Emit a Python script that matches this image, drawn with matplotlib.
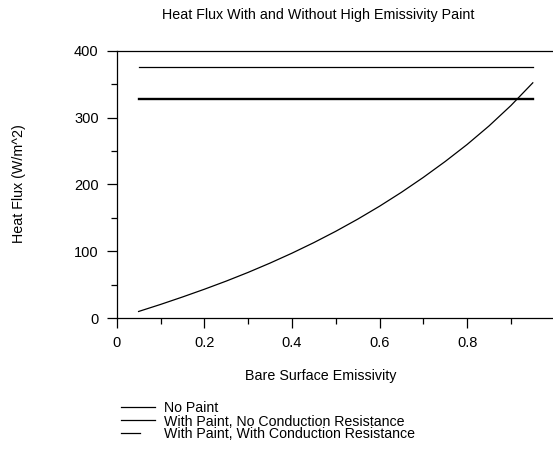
import matplotlib
matplotlib.use("Agg")
import matplotlib.pyplot as plt
from matplotlib.lines import Line2D
from matplotlib.ticker import MultipleLocator

plt.rcParams['font.family'] = ['Liberation Sans', 'DejaVu Sans']

# data
emissivity = [0.05, 0.10, 0.15, 0.20, 0.25, 0.30, 0.35, 0.40, 0.45, 0.50,
              0.55, 0.60, 0.65, 0.70, 0.75, 0.80, 0.85, 0.90, 0.95]
no_paint = [10.2, 20.7, 31.8, 43.4, 55.6, 68.6, 82.5, 97.3, 113.1, 130.0,
            148.1, 167.5, 188.3, 210.6, 234.4, 259.8, 287.5, 318.0, 352.0]
paint_no_cond = [376.0] * len(emissivity)
paint_with_cond = [328.0] * len(emissivity)
labels = ['No Paint', 'With Paint, No Conduction Resistance',
          'With Paint, With Conduction Resistance']

W, H = 553, 453
fig = plt.figure(figsize=(W / 100, H / 100), dpi=100)
ax = fig.add_axes([116.7 / W, 134.7 / H, 438.0 / W, 267.6 / H])

ax.plot(emissivity, no_paint, color='black', lw=0.9)
ax.plot(emissivity, paint_no_cond, color='black', lw=0.9)
ax.plot(emissivity, paint_with_cond, color='black', lw=1.7)

ax.set_xlim(0, 1.0)
ax.set_ylim(0, 400)
ax.xaxis.set_minor_locator(MultipleLocator(0.1))
ax.yaxis.set_minor_locator(MultipleLocator(50))
ax.set_xticks([0, 0.2, 0.4, 0.6, 0.8])
ax.set_xticklabels(['0', '0.2', '0.4', '0.6', '0.8'])
ax.set_yticks([0, 100, 200, 300, 400])
ax.set_yticklabels(['0', '100', '200', '300', '400'])

ax.spines['right'].set_visible(False)
for s in ['left', 'bottom', 'top']:
    ax.spines[s].set_linewidth(0.9)
ax.tick_params(which='major', direction='out', length=7, width=0.9,
               labelsize=10.5, pad=6)
ax.tick_params(which='minor', direction='out', length=4.5, width=0.9)
ax.tick_params(top=False, which='both')

fig.text(318 / W, 1 - 15 / H, 'Heat Flux With and Without High Emissivity Paint',
         ha='center', va='center', fontsize=10.3)
fig.text(321 / W, 1 - 376 / H, 'Bare Surface Emissivity',
         ha='center', va='center', fontsize=10.3)
fig.text(19 / W, 1 - 184 / H, 'Heat Flux (W/m^2)', rotation=90,
         ha='center', va='center', fontsize=10.3)

# legend drawn by hand to get the tight row spacing
leg_rows = [407.0, 420.0, 433.0]
leg_ends = [155, 155, 140]
for row, end, lab in zip(leg_rows, leg_ends, labels):
    y = 1 - row / H
    fig.add_artist(Line2D([121 / W, end / W], [y, y], color='black', lw=0.9))
    fig.text(164 / W, y, lab, ha='left', va='center_baseline', fontsize=10.2)

fig.savefig('out.png', dpi=100)
